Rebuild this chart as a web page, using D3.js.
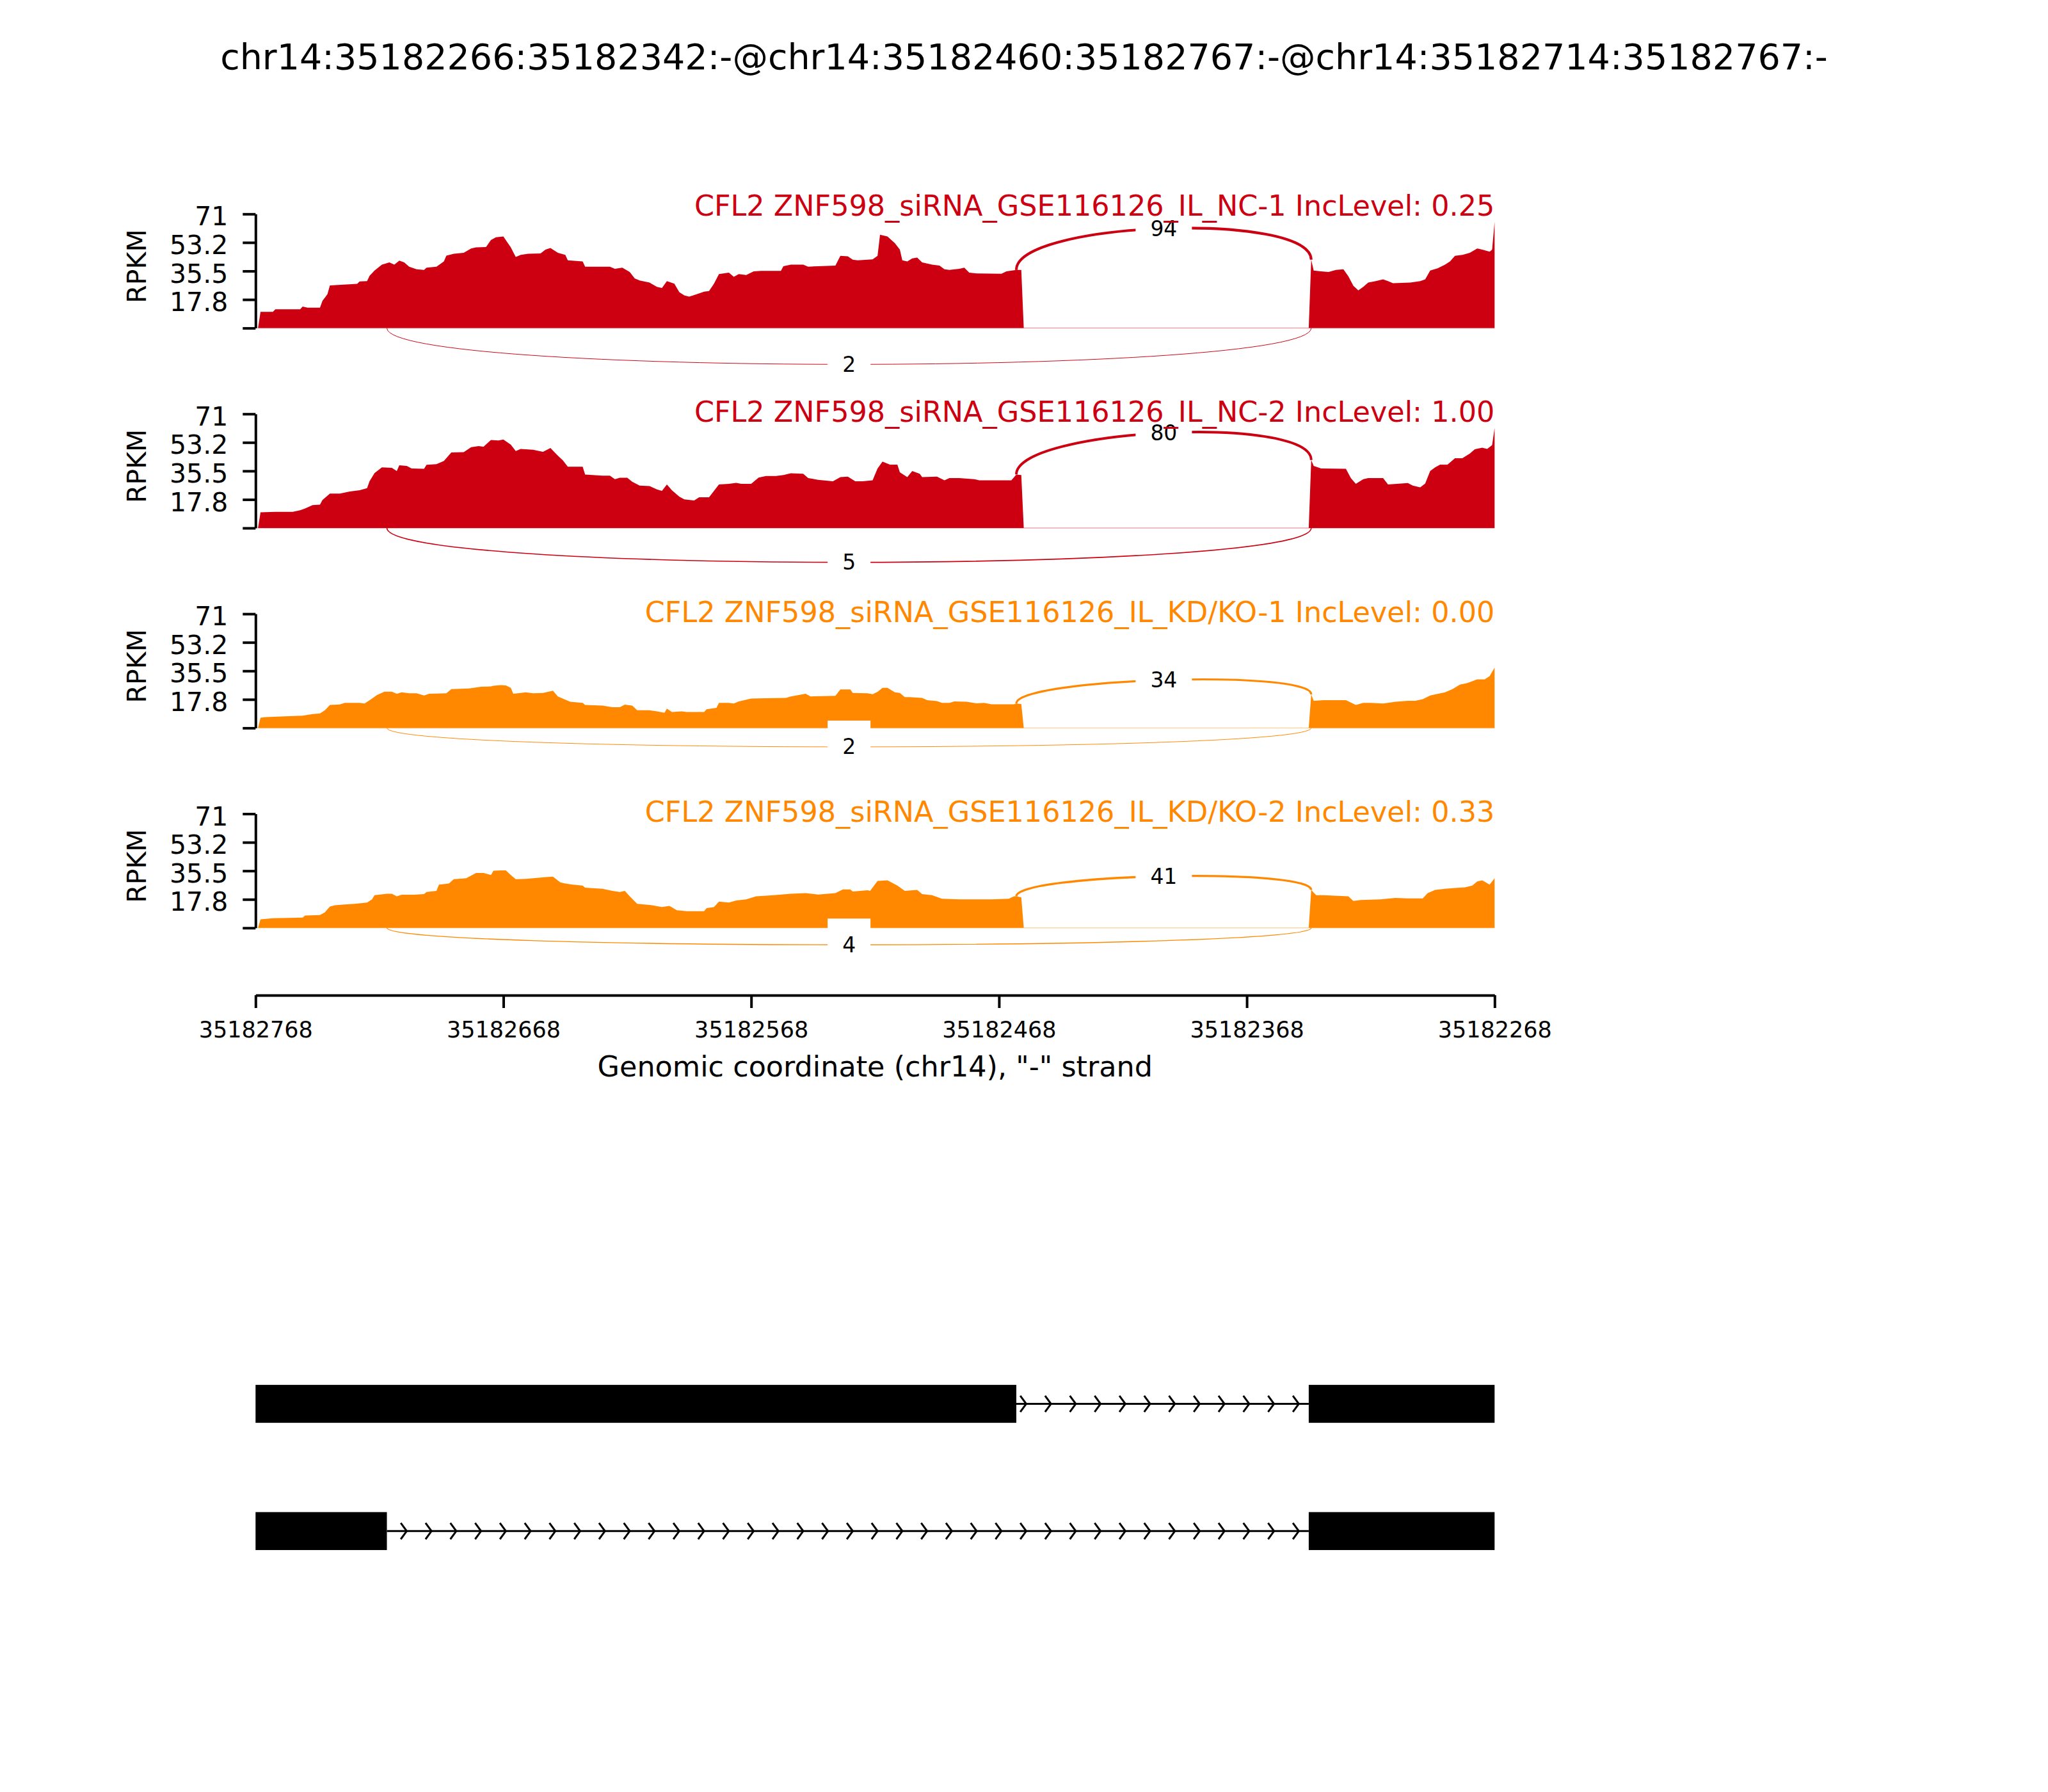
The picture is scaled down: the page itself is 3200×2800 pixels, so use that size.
<!DOCTYPE html>
<html><head><meta charset="utf-8">
<script src="https://cdn.jsdelivr.net/npm/d3@7"></script>
<style>body{margin:0;background:#fff}svg text{font-family:"DejaVu Sans",sans-serif}</style>
</head><body><svg id="c" width="3200" height="2800"></svg>
<script>
const chartTitle = "chr14:35182266:35182342:-@chr14:35182460:35182767:-@chr14:35182714:35182767:-";
const sampleNames = [
  "CFL2 ZNF598_siRNA_GSE116126_IL_NC-1 IncLevel: 0.25",
  "CFL2 ZNF598_siRNA_GSE116126_IL_NC-2 IncLevel: 1.00",
  "CFL2 ZNF598_siRNA_GSE116126_IL_KD/KO-1 IncLevel: 0.00",
  "CFL2 ZNF598_siRNA_GSE116126_IL_KD/KO-2 IncLevel: 0.33"];
const sampleColors = ["#CC0011", "#CC0011", "#FF8800", "#FF8800"];
const yTicks = [0, 17.75, 35.5, 53.25, 71];
const yTickLabels = ["", "17.8", "35.5", "53.2", "71"];
const xTicks = [35182768, 35182668, 35182568, 35182468, 35182368, 35182268];
const incJunction = [35182460, 35182342];
const skipJunction = [35182714, 35182342];
const incCounts = [94, 80, 34, 41];
const skipCounts = [2, 5, 2, 4];
const sampleMaxRPKM = [73, 69, 38, 34];
const transcripts = [
  [[35182460, 35182767], [35182266, 35182342]],
  [[35182714, 35182767], [35182266, 35182342]]];

// coverage: [genomic position, RPKM]
const covNC1 = [[35182767,0],[35182766,10.1],[35182761,10.1],[35182760,11.7],[35182750,11.7],[35182749,13.4],[35182747,12.7],[35182742,12.7],[35182741,17],[35182739,21],[35182738,26.5],[35182727,27.5],[35182726,29],[35182723,29.2],[35182722,32.5],[35182720,35.8],[35182717,39.5],[35182714,40.9],[35182712,39.5],[35182710,42],[35182708,40.9],[35182706,38.2],[35182703,36.6],[35182700,36.2],[35182699,37.6],[35182695,38.2],[35182692,41.5],[35182691,45],[35182688,46.2],[35182684,46.8],[35182681,49.5],[35182679,50.2],[35182675,50.4],[35182673,54.8],[35182671,56.5],[35182668,57],[35182665,50.2],[35182663,44.2],[35182661,45.5],[35182658,46.2],[35182653,46.4],[35182651,48.8],[35182649,49.8],[35182646,46.8],[35182643,45.5],[35182642,42.2],[35182636,41.5],[35182635,38.2],[35182625,38.2],[35182623,36.9],[35182620,37.6],[35182617,34.9],[35182615,30.9],[35182613,29.6],[35182609,28.3],[35182606,25.6],[35182604,24.9],[35182602,29.2],[35182599,27.6],[35182597,22.3],[35182595,20.3],[35182593,19.6],[35182590,21],[35182587,22.6],[35182585,23],[35182583,27.6],[35182581,33.6],[35182577,34.5],[35182575,31.9],[35182573,33.6],[35182570,33],[35182567,35.3],[35182564,35.6],[35182556,35.6],[35182555,38.5],[35182552,39.5],[35182547,39.5],[35182545,38.2],[35182541,38.5],[35182534,38.9],[35182532,44.9],[35182529,44.6],[35182527,42.5],[35182525,42.2],[35182519,42.7],[35182517,44.9],[35182516,58.1],[35182513,57],[35182510,52.8],[35182508,48.8],[35182507,42.2],[35182505,41.5],[35182503,43.3],[35182501,43.8],[35182499,40.9],[35182495,39.5],[35182492,38.9],[35182490,36.6],[35182488,36.2],[35182484,36.9],[35182482,37.6],[35182480,34.5],[35182477,34],[35182467,33.8],[35182465,35.3],[35182461,36.2],[35182459,36.2],[35182458,0],[35182343,0],[35182342,42.5],[35182341,35.8],[35182338,35.3],[35182335,34.9],[35182332,36.2],[35182329,36.6],[35182327,32.2],[35182325,26.3],[35182323,23.4],[35182321,25.6],[35182319,28.3],[35182316,29.2],[35182313,30.3],[35182311,29.2],[35182309,27.9],[35182302,28.3],[35182298,29.2],[35182296,30.3],[35182294,35.8],[35182291,37.2],[35182288,39.5],[35182286,41.5],[35182284,44.9],[35182281,45.5],[35182278,46.8],[35182275,49.5],[35182273,48.8],[35182270,47.5],[35182269,48.8],[35182268,66]];
const covNC2 = [[35182767,0],[35182766,9.8],[35182760,10.1],[35182753,10.1],[35182750,11.1],[35182748,12.1],[35182745,14.2],[35182742,14.5],[35182741,17.4],[35182738,21.4],[35182734,21.4],[35182730,22.7],[35182726,23.5],[35182723,24.8],[35182722,29.1],[35182720,34.1],[35182717,37.7],[35182713,37.4],[35182711,35.4],[35182710,39],[35182707,38.6],[35182705,37],[35182700,36.8],[35182699,39.3],[35182695,39.7],[35182692,41.7],[35182689,47],[35182684,47.2],[35182681,50.3],[35182678,51],[35182676,50.6],[35182673,54.8],[35182670,54.5],[35182668,55.1],[35182665,51.9],[35182663,47.9],[35182661,49.2],[35182656,48.7],[35182652,47.4],[35182649,49.8],[35182646,45],[35182644,42.1],[35182642,38.1],[35182636,38.1],[35182635,33.3],[35182628,32.6],[35182625,32.6],[35182623,30.4],[35182621,31.3],[35182618,31.3],[35182616,28.8],[35182613,26.4],[35182609,26.1],[35182606,24],[35182604,23.1],[35182602,27.1],[35182600,23.5],[35182597,19.5],[35182595,17.8],[35182591,17.1],[35182589,19.1],[35182585,19.1],[35182583,23.1],[35182581,27.1],[35182577,27.5],[35182574,28.1],[35182572,27.5],[35182568,27.5],[35182565,31.4],[35182562,32.4],[35182558,32.4],[35182555,33],[35182552,34],[35182547,33.7],[35182545,31.1],[35182541,30],[35182535,29.1],[35182532,31.7],[35182529,32],[35182526,29.1],[35182523,29.1],[35182519,29.7],[35182517,37],[35182515,41.3],[35182512,39.4],[35182509,39.4],[35182508,34.6],[35182505,31.7],[35182503,35.4],[35182500,33.7],[35182499,31.7],[35182493,32],[35182490,29.7],[35182488,31.1],[35182484,31.1],[35182478,30.4],[35182476,29.7],[35182463,29.7],[35182461,33.3],[35182459,33],[35182458,0],[35182343,0],[35182342,42.3],[35182341,38.6],[35182338,37],[35182328,36.8],[35182326,31.1],[35182324,27.5],[35182321,30.4],[35182319,31.1],[35182313,31.1],[35182311,27.1],[35182303,28],[35182301,26.4],[35182298,25.3],[35182296,27.7],[35182294,35.4],[35182292,37.7],[35182290,39.4],[35182287,39.4],[35182284,43.4],[35182281,43.4],[35182278,46.3],[35182276,49],[35182273,50],[35182271,49.2],[35182269,51.6],[35182268,62.2]];
const covKD1 = [[35182767,0],[35182766,6.3],[35182764,6.7],[35182756,7.2],[35182749,7.6],[35182745,8.6],[35182742,9],[35182740,11],[35182738,14.3],[35182734,14.6],[35182732,15.6],[35182726,15.6],[35182724,15.2],[35182721,18.3],[35182719,20.5],[35182716,22.6],[35182713,22.6],[35182711,21.3],[35182709,22.2],[35182706,21.6],[35182703,21.6],[35182700,20.2],[35182698,21.3],[35182691,21.6],[35182689,24.2],[35182682,24.5],[35182680,24.9],[35182677,25.6],[35182673,25.8],[35182672,26.2],[35182669,26.6],[35182667,26.4],[35182665,24.9],[35182664,21.3],[35182661,21.8],[35182659,22.2],[35182656,21.6],[35182652,21.8],[35182648,23.2],[35182646,19.6],[35182643,17.6],[35182641,16.3],[35182636,15.6],[35182635,14.3],[35182628,13.9],[35182624,12.9],[35182621,12.9],[35182619,14.5],[35182616,13.9],[35182614,11],[35182609,11],[35182606,10.3],[35182603,9.4],[35182602,12],[35182600,9.9],[35182596,10.3],[35182594,9.9],[35182587,9.9],[35182586,11.6],[35182582,12.5],[35182581,15.6],[35182577,15.6],[35182575,15.2],[35182573,16.5],[35182568,18.3],[35182562,18.5],[35182554,18.7],[35182552,19.6],[35182546,21.3],[35182544,19.6],[35182534,20],[35182532,24],[35182528,24],[35182527,21.8],[35182521,21.6],[35182519,21],[35182517,22.5],[35182515,24.9],[35182513,24.9],[35182510,22.2],[35182508,21.8],[35182506,19.2],[35182504,19.2],[35182499,18.7],[35182497,17.3],[35182493,16.7],[35182491,15.6],[35182488,15.6],[35182486,16.5],[35182481,16.3],[35182477,15.3],[35182474,15.6],[35182471,14.7],[35182462,14.7],[35182461,15.2],[35182459,14.9],[35182458,0],[35182343,0],[35182342,20.9],[35182341,16.9],[35182337,17.3],[35182328,17.3],[35182324,14.3],[35182321,15.6],[35182318,15.6],[35182313,15.2],[35182308,16.3],[35182303,16.9],[35182300,16.9],[35182297,17.9],[35182294,20.2],[35182292,20.9],[35182288,22.2],[35182285,24.2],[35182282,26.9],[35182279,27.9],[35182275,30.2],[35182272,30.2],[35182270,32.2],[35182268,37.5]];
const covKD2 = [[35182767,0],[35182766,5.3],[35182761,6],[35182749,6.4],[35182748,7.7],[35182742,8],[35182740,9.7],[35182738,13.3],[35182736,14.1],[35182732,14.6],[35182728,15],[35182723,15.7],[35182721,17.7],[35182720,20.3],[35182715,21.2],[35182713,21.2],[35182711,19.6],[35182709,20.6],[35182704,20.6],[35182700,21],[35182699,22.3],[35182695,23],[35182694,26.9],[35182690,27.6],[35182688,30.3],[35182683,30.9],[35182679,34.2],[35182676,34.2],[35182673,32.9],[35182672,35.6],[35182669,35.8],[35182667,35.8],[35182665,32.9],[35182663,30.3],[35182659,30.5],[35182656,30.9],[35182651,31.6],[35182648,31.9],[35182645,28.3],[35182643,27.6],[35182640,26.9],[35182636,26.3],[35182635,25],[35182628,24.3],[35182624,23],[35182621,22.3],[35182619,23],[35182617,19.6],[35182614,15],[35182609,14.3],[35182604,13],[35182601,13.7],[35182598,11],[35182594,10.4],[35182587,10.4],[35182586,12.3],[35182583,13],[35182581,16.3],[35182577,15.7],[35182574,17],[35182570,17.7],[35182566,19.6],[35182559,20.3],[35182552,21.2],[35182546,21.6],[35182541,20.7],[35182534,21.6],[35182531,23.9],[35182528,23.9],[35182527,22.6],[35182521,23.4],[35182520,23],[35182517,29.2],[35182513,29.6],[35182509,26.3],[35182508,25.2],[35182506,23],[35182501,23.6],[35182499,21],[35182495,20.3],[35182491,18.1],[35182484,17.7],[35182471,17.7],[35182464,18.1],[35182462,19.6],[35182461,19.6],[35182459,19],[35182458,0],[35182343,0],[35182342,23.6],[35182340,20.3],[35182337,20.3],[35182327,19.6],[35182325,16.7],[35182322,17.3],[35182314,17.7],[35182308,18.6],[35182303,18.3],[35182297,18.3],[35182295,21.6],[35182292,23.6],[35182288,24.3],[35182285,24.7],[35182280,25.2],[35182277,26.3],[35182275,28.9],[35182273,29.6],[35182270,26.9],[35182268,30.9]];
const coverages = [covNC1, covNC2, covKD1, covKD2];

const svg = d3.select("#c");
svg.append("rect").attr("width", 3200).attr("height", 2800).attr("fill", "#fff");
const FONT = "DejaVu Sans";

const xLeft = 399.3, xRight = 2335.3;
const x = d3.scaleLinear().domain([xTicks[0], xTicks[xTicks.length - 1]]).range([xLeft, xRight]);
const panelTop0 = 334.3, panelStep = 312.4, panelH = 178.3;
const titleOffsets = [3, 12.4, 12.4, 12.4];

function addLabel(g, cx, cy, txt) {
  const t = g.append("text").attr("x", cx).attr("y", cy).attr("text-anchor", "middle")
    .attr("dominant-baseline", "central").attr("font-family", FONT).attr("font-size", 33)
    .attr("fill", "#000").text(txt);
  const w = t.node().getComputedTextLength();
  g.insert("rect", function () { return t.node(); })
    .attr("x", cx - w / 2 - 23).attr("y", cy - 41).attr("width", w + 46).attr("height", 82).attr("fill", "#fff");
}

coverages.forEach((cov, i) => {
  const top = panelTop0 + i * panelStep, base = top + panelH;
  const y = d3.scaleLinear().domain([0, 71]).range([base, top]);
  const color = sampleColors[i];
  const g = svg.append("g");

  g.append("line").attr("x1", x(cov[0][0])).attr("x2", x(cov[cov.length - 1][0]))
    .attr("y1", y(0)).attr("y2", y(0)).attr("stroke", color).attr("stroke-width", 1.5).attr("opacity", 0.35);

  const area = d3.area().x(d => x(d[0])).y0(y(0)).y1(d => y(d[1]));
  g.append("path").datum(cov).attr("d", area).attr("fill", color);

  const val = p => { const f = cov.find(d => d[0] === p); return f ? f[1] : 0; };
  const h = 0.4125 * sampleMaxRPKM[i];

  // inclusion junction (above)
  const xl = x(incJunction[0] + 1), xr = x(incJunction[1]);
  const l = val(incJunction[0] + 1), r = val(incJunction[1]);
  g.append("path")
    .attr("d", `M${xl},${y(l)} C${xl},${y(l + h)} ${xr},${y(r + h)} ${xr},${y(r)}`)
    .attr("fill", "none").attr("stroke", color).attr("stroke-width", 2.05 * Math.log10(incCounts[i] + 1));

  // skipping junction (below)
  const sl = x(skipJunction[0] + 1), sr = x(skipJunction[1]);
  g.append("path")
    .attr("d", `M${sl},${y(0)} C${sl},${y(-h)} ${sr},${y(-h)} ${sr},${y(0)}`)
    .attr("fill", "none").attr("stroke", color).attr("stroke-width", 2.05 * Math.log10(skipCounts[i] + 1));

  addLabel(g, (xl + xr) / 2, y((l + r) / 2 + 0.75 * h), String(incCounts[i]));
  addLabel(g, (sl + sr) / 2, y(-0.75 * h), String(skipCounts[i]));

  // y axis
  const ya = g.append("g").attr("transform", `translate(${xLeft},0)`)
    .call(d3.axisLeft(y).tickValues(yTicks).tickFormat((d, k) => yTickLabels[k])
      .tickSize(20).tickPadding(23).tickSizeOuter(0));
  ya.selectAll("path,line").attr("stroke", "#000").attr("stroke-width", 4);
  ya.selectAll("text").attr("font-family", FONT).attr("font-size", 41).attr("fill", "#000").attr("dy", "0.43em");

  g.append("text").attr("transform", `translate(228,${base - 96.7}) rotate(-90)`)
    .attr("text-anchor", "middle").attr("font-family", FONT).attr("font-size", 41).text("RPKM");

  g.append("text").attr("x", xRight).attr("y", top + titleOffsets[i]).attr("text-anchor", "end")
    .attr("font-family", FONT).attr("font-size", 44.5).attr("fill", color).text(sampleNames[i]);
});

// x axis
const xa = svg.append("g").attr("transform", "translate(0,1555)")
  .call(d3.axisBottom(x).tickValues(xTicks).tickFormat(d3.format("d")).tickSize(20).tickPadding(21).tickSizeOuter(0));
xa.selectAll("path,line").attr("stroke", "#000").attr("stroke-width", 4);
xa.selectAll("text").attr("font-family", FONT).attr("font-size", 35).attr("fill", "#000");
svg.append("text").attr("x", (xLeft + xRight) / 2).attr("y", 1682).attr("text-anchor", "middle")
  .attr("font-family", FONT).attr("font-size", 44.5).text('Genomic coordinate (chr14), "-" strand');

// title
svg.append("text").attr("x", 1600).attr("y", 108).attr("text-anchor", "middle")
  .attr("font-family", FONT).attr("font-size", 55.5).text(chartTitle);

// gene models
const trackCenters = [2193.5, 2392.3];
const exonH = 59.3;
const clipX = v => Math.max(xLeft, Math.min(xRight, v));
transcripts.forEach((exons, t) => {
  const cy = trackCenters[t];
  const g = svg.append("g");
  const boxes = exons.map(e => ({ x0: clipX(x(e[1] + 1)), x1: clipX(x(e[0] + 1)) })).sort((a, b) => a.x0 - b.x0);
  for (let k = 0; k < boxes.length - 1; k++) {
    const a = boxes[k].x1, b = boxes[k + 1].x0;
    g.append("line").attr("x1", a).attr("x2", b).attr("y1", cy).attr("y2", cy)
      .attr("stroke", "#000").attr("stroke-width", 3);
    const pts = d3.range(0, 60).map(n => x(xTicks[0] - 1 - 10 * n)).filter(px => px - 9.3 >= a && px <= b);
    g.selectAll(null).data(pts).enter().append("path")
      .attr("d", px => `M${px - 9.3},${cy - 12.7} L${px},${cy} L${px - 9.3},${cy + 12.7}`)
      .attr("fill", "none").attr("stroke", "#000").attr("stroke-width", 3);
  }
  g.selectAll("rect").data(boxes).enter().append("rect")
    .attr("x", d => d.x0).attr("width", d => d.x1 - d.x0)
    .attr("y", cy - exonH / 2).attr("height", exonH).attr("fill", "#000");
});
</script>
</body></html>
